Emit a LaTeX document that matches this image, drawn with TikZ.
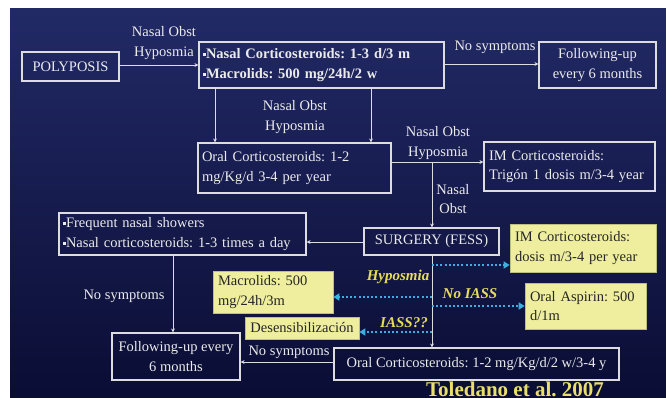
\documentclass[tikz,border=0pt]{standalone}
\usepackage{fontspec}
\setmainfont{Liberation Serif}
\usetikzlibrary{arrows.meta,calc}
\frenchspacing
\definecolor{bgtop}{RGB}{34,42,102}
\definecolor{bgbot}{RGB}{10,13,52}
\definecolor{wline}{RGB}{220,220,225}
\definecolor{wtext}{RGB}{235,235,235}
\definecolor{ybox}{RGB}{238,238,158}
\definecolor{ylab}{RGB}{232,220,90}
\definecolor{dotc}{RGB}{60,175,225}
\newcommand{\sqb}{\raisebox{2.5pt}{\rule{3pt}{3pt}}}
\tikzset{
  box/.style={draw=wline,line width=1.1pt,text=wtext,inner sep=0pt,font=\fontsize{14.5}{19.5}\selectfont},
  ybx/.style={fill=ybox,draw=ybox!80!black,line width=0.6pt,text=black!85,inner sep=0pt,font=\fontsize{14.5}{19.5}\selectfont},
  lab/.style={text=wtext,inner sep=0pt,align=center,font=\fontsize{14.5}{19.5}\selectfont},
  ylabel/.style={text=ylab,inner sep=0pt,font=\fontsize{15}{16}\selectfont\bfseries\itshape},
  arr/.style={draw=wline,line width=1pt,-{Stealth[length=4pt,width=4pt]}},
  darr/.style={draw=dotc,line width=2.2pt,dash pattern=on 2pt off 2.2pt,-{Triangle[length=6pt,width=7pt]}}
}
\begin{document}
\begin{tikzpicture}[x=1pt,y=-1pt]
\useasboundingbox (0,0) rectangle (666,397);
\clip (0,0) rectangle (666,397);
\fill[white] (0,0) rectangle (666,397);
\shade[top color=bgtop,bottom color=bgbot] (10,8) rectangle (666,397);

% nodes
\node[box,minimum width=97pt,minimum height=29pt] (poly) at (70.5,66.5) {POLYPOSIS};
\node[box,minimum width=245pt,minimum height=46pt,align=left,text width=237pt,font=\fontsize{14.5}{19.5}\selectfont\bfseries] (nc) at (321.5,65)
  {\sqb Nasal Corticosteroids: 1-3 d/3 m\\ \sqb Macrolids: 500 mg/24h/2 w};
\node[box,minimum width=117pt,minimum height=46pt,align=center] (fu1) at (597.5,65) {Following-up\\every 6 months};
\node[box,minimum width=193pt,minimum height=50pt,align=left,text width=185pt] (oc1) at (294.5,168) {Oral Corticosteroids: 1-2\\mg/Kg/d 3-4 per year};
\node[box,minimum width=171pt,minimum height=49pt,align=left,text width=161pt] (im1) at (569.5,166.5) {IM Corticosteroids:\\Trigón 1 dosis m/3-4 year};
\node[box,minimum width=135pt,minimum height=27pt] (surg) at (431.5,241.5) {SURGERY (FESS)};
\node[box,minimum width=247pt,minimum height=42pt,align=left,text width=239pt] (fns) at (182.5,234) {\sqb Frequent nasal showers\\ \sqb Nasal corticosteroids: 1-3 times a day};
\node[box,minimum width=128pt,minimum height=47pt,align=center] (fu2) at (176,356.5) {Following-up every\\6 months};
\node[box,minimum width=285pt,minimum height=32pt] (oc2) at (476.5,364) {Oral Corticosteroids: 1-2 mg/Kg/d/2 w/3-4 y};
\node[ybx,minimum width=146pt,minimum height=48pt,align=left,text width=136pt] (im2) at (583,248) {IM Corticosteroids:\\dosis m/3-4 per year};
\node[ybx,minimum width=120pt,minimum height=42pt,align=left,text width=110pt] (mac) at (273,292) {Macrolids: 500\\mg/24h/3m};
\node[ybx,minimum width=121pt,minimum height=46pt,align=left,text width=111pt] (asp) at (585.5,306) {Oral Aspirin: 500\\d/1m};
\node[ybx,minimum width=114pt,minimum height=22pt] (des) at (302,328) {Desensibilización};

% labels
\node[lab] (l1) at (164,43) {Nasal Obst\\Hyposmia};
\node[lab] (l2) at (495,47) {No symptoms};
\node[lab] (l3) at (295,117) {Nasal Obst\\Hyposmia};
\node[lab] (l4) at (438,143) {Nasal Obst\\Hyposmia};
\node[lab] (l5) at (453,199) {Nasal\\Obst};
\node[lab] (l6) at (124,296) {No symptoms};
\node[lab] (l7) at (289,352) {No symptoms};
\node[ylabel] (y1) at (398,277) {Hyposmia};
\node[ylabel] (y2) at (470,294) {No IASS};
\node[ylabel] (y3) at (404,323) {IASS??};
\node[text=ylab!90!white,inner sep=0pt,anchor=base,font=\fontsize{21}{22}\selectfont\bfseries] (tol) at (515,396) {Toledano et al. 2007};

% connectors
\draw[arr] (poly.east |- 0,65) -- (nc.west |- 0,65);
\draw[arr] (nc.east |- 0,64) -- (fu1.west |- 0,64);
\draw[arr] ([xshift=-106.5pt]nc.south) -- ([xshift=-106.5pt]nc.south |- oc1.north);
\draw[arr] ([xshift=49.5pt]nc.south) -- ([xshift=49.5pt]nc.south |- oc1.north);
\coordinate (br) at (432,162);
\draw[arr] (oc1.east |- br) -- (im1.west |- br);
\draw[arr] (br) -- (br |- surg.north);
\coordinate (sl) at (364,242);
\draw[arr] (surg.west |- sl) -- (fns.east |- sl);
\draw[arr] (fns.south -| 173,0) -- (fu2.north -| 173,0);
\draw[arr] (br |- surg.south) -- (br |- oc2.north);
\coordinate (nl) at (0,362);
\draw[arr] (oc2.west |- nl) -- (fu2.east |- nl);

% dotted
\coordinate (d1) at (432,265);
\coordinate (d2) at (432,297);
\coordinate (d3) at (432,306);
\coordinate (d4) at (432,332);
\draw[darr] (d1) -- (im2.west |- d1);
\draw[darr] (d2) -- (mac.east |- d2);
\draw[darr] (d3) -- (asp.west |- d3);
\draw[darr] (d4) -- (des.east |- d4);
\end{tikzpicture}
\end{document}
